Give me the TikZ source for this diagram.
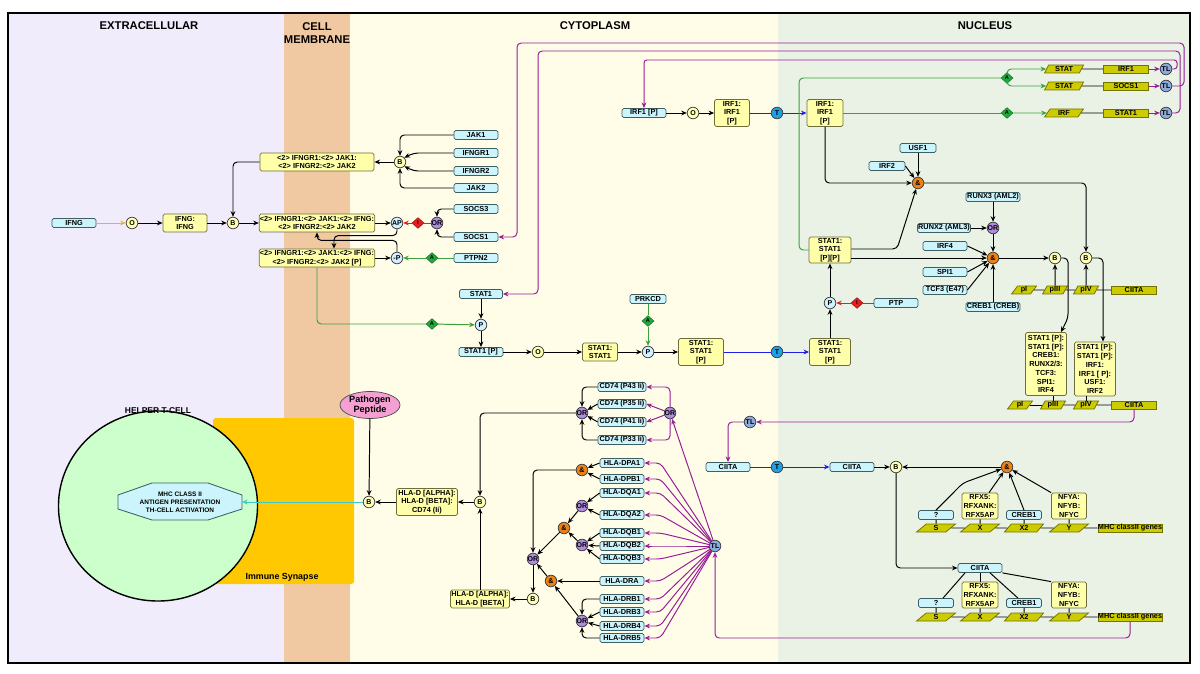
\documentclass[tikz,border=0pt]{standalone}
\usepackage{fontspec}
\setmainfont{Liberation Sans}
\usepackage{tikz}
\usetikzlibrary{shapes,arrows.meta,positioning,calc}

% colours
\definecolor{extrabg}{RGB}{240,236,252}
\definecolor{membg}{RGB}{240,200,162}
\definecolor{cytobg}{RGB}{255,253,232}
\definecolor{nucbg}{RGB}{234,242,230}
\definecolor{protfill}{RGB}{204,244,252}
\definecolor{protline}{RGB}{60,95,100}
\definecolor{cplxfill}{RGB}{255,255,170}
\definecolor{cplxline}{RGB}{110,110,60}
\definecolor{genefill}{RGB}{204,204,0}
\definecolor{geneline}{RGB}{115,115,0}
\definecolor{bfill}{RGB}{255,255,180}
\definecolor{andfill}{RGB}{235,130,20}
\definecolor{orfill}{RGB}{176,140,224}
\definecolor{pfill}{RGB}{210,240,255}
\definecolor{tfill}{RGB}{30,160,230}
\definecolor{tlfill}{RGB}{140,170,220}
\definecolor{actgreen}{RGB}{30,170,60}
\definecolor{inhred}{RGB}{230,30,30}
\definecolor{linepurple}{RGB}{150,30,150}
\definecolor{linegreen}{RGB}{60,160,60}
\definecolor{lineblue}{RGB}{30,30,230}
\definecolor{lineorange}{RGB}{245,170,60}
\definecolor{linecyan}{RGB}{60,200,200}
\definecolor{synapse}{RGB}{255,200,0}
\definecolor{tcell}{RGB}{204,255,204}
\definecolor{peptide}{RGB}{245,160,210}

\newcommand\boxfont{\fontsize{5.2}{6.2}\selectfont\bfseries}
\newcommand\gatefont{\fontsize{5}{5}\selectfont\bfseries}
\newcommand\headfont{\fontsize{8}{9.6}\selectfont\bfseries}

\tikzset{
  ln/.style={line width=0.7pt},
  arr/.style={ln, -{Stealth[length=4pt,width=3.4pt]}},
  parr/.style={arr, draw=linepurple},
  garr/.style={arr, draw=linegreen},
  barr/.style={arr, draw=lineblue},
  rarr/.style={arr, draw=inhred},
  rc/.style={rounded corners=3pt},
  prot/.style={draw=protline, fill=protfill, rounded corners=1.2pt, line width=0.55pt, minimum width=1.1cm, minimum height=0.225cm, inner sep=0.5pt, font=\boxfont},
  cplx/.style={draw=cplxline, fill=cplxfill, rounded corners=1.2pt, line width=0.55pt, align=center, inner sep=0.5pt, font=\boxfont},
  gene/.style={draw=geneline, fill=genefill, line width=0.55pt, minimum width=1.125cm, minimum height=0.2cm, inner sep=0pt, font=\boxfont},
  prom/.style={trapezium, trapezium left angle=65, trapezium right angle=115, trapezium stretches=true, draw=geneline, fill=genefill, line width=0.55pt, minimum width=0.975cm, minimum height=0.2cm, inner sep=0pt, font=\boxfont},
  gate/.style={circle, draw=black!75, line width=0.55pt, minimum size=0.29cm, inner sep=0pt, font=\gatefont},
  bind/.style={gate, fill=bfill},
  andg/.style={gate, fill=andfill},
  org/.style={gate, fill=orfill},
  phos/.style={gate, fill=pfill},
  trans/.style={gate, fill=tfill},
  transl/.style={gate, fill=tlfill},
  actd/.style={diamond, fill=actgreen, draw=actgreen!70!black, minimum width=0.3cm, minimum height=0.27cm, inner sep=0pt, font=\fontsize{4}{4}\selectfont\bfseries},
  inhd/.style={actd, fill=inhred, draw=inhred!70!black},
  head/.style={font=\headfont, align=center},
}

\begin{document}
\begin{tikzpicture}[x=0.025cm, y=-0.025cm]
  \useasboundingbox (0,0) rectangle (1200,674);
  \fill[white] (0,0) rectangle (1200,674);

  % compartments
  \fill[extrabg] (8,13) rectangle (284,663);
  \fill[membg] (284,13) rectangle (350,663);
  \fill[cytobg] (350,13) rectangle (778,663);
  \fill[nucbg] (778,13) rectangle (1190,663);
  \draw[line width=1.4pt] (8,13) rectangle (1190,663);
  \node[head] (hextra) at (149,26) {EXTRACELLULAR};
  \node[head] (hmem) at (317,33) {CELL\\MEMBRANE};
  \node[head] (hcyto) at (595,26) {CYTOPLASM};
  \node[head] (hnuc) at (985,26) {NUCLEUS};

  % helper T-cell
  \fill[synapse, rounded corners=2pt] (213,418) rectangle (354,584);
  \node[font=\fontsize{6.3}{7}\selectfont\bfseries] (syn) at (282,577) {Immune Synapse};
  \node[ellipse, draw, line width=1pt, fill=tcell, minimum width=4.975cm, minimum height=4.75cm] (tcell) at (158,506) {};
  \node[font=\fontsize{6}{7}\selectfont\bfseries] (tlbl) at (158,411) {HELPER T-CELL};
  \draw[draw=protline, fill=protfill, line width=0.6pt] (152,483) -- (208,483) -- (242,495) -- (242,509) -- (208,520) -- (152,520) -- (118,509) -- (118,495) -- cycle;
  \node[font=\fontsize{4.6}{5.7}\selectfont\bfseries, align=center] (act) at (180,502) {MHC CLASS II\\ANTIGEN PRESENTATION\\TH-CELL ACTIVATION};
  \coordinate (actR) at (242,502);

  % receptor
  \node[cplx, minimum width=2.85cm, minimum height=0.45cm] (c1) at (317,162) {<2> IFNGR1:<2> JAK1:\\<2> IFNGR2:<2> JAK2};
  \node[bind] (b1) at (400,162) {B};
  \node[prot] (jak1) at (476,135) {JAK1};
  \node[prot] (ifngr1) at (476,153) {IFNGR1};
  \node[prot] (ifngr2) at (476,171) {IFNGR2};
  \node[prot] (jak2) at (476,188) {JAK2};
  \node[prot] (ifng) at (74,223) {IFNG};
  \node[bind] (o1) at (132,223) {O};
  \node[cplx, minimum width=1.1cm, minimum height=0.45cm] (dimer) at (185,223) {IFNG:\\IFNG};
  \node[bind] (b2) at (233,223) {B};
  \node[cplx, minimum width=2.85cm, minimum height=0.45cm] (c2) at (317,223) {<2> IFNGR1:<2> JAK1:<2> IFNG:\\<2> IFNGR2:<2> JAK2};
  \node[phos] (ap) at (397,223) {AP};
  \node[inhd] (inh1) at (418,223) {I};
  \node[org] (orS) at (437,223) {OR};
  \node[prot] (socs3) at (476,209) {SOCS3};
  \node[prot] (socs1) at (476,237) {SOCS1};
  \node[cplx, minimum width=2.85cm, minimum height=0.45cm] (c3) at (317,258) {<2> IFNGR1:<2> JAK1:<2> IFNG:\\<2> IFNGR2:<2> JAK2 [P]};
  \node[phos] (dp) at (397,258) {-P};
  \node[actd] (act1) at (432,258) {A};
  \node[prot] (ptpn2) at (476,258) {PTPN2};
  \node[actd] (act2) at (432,324) {A};

  % STAT1 dimer
  \node[prot, minimum width=1.075cm] (stat1) at (481,294) {STAT1};
  \node[phos] (p1) at (481,325) {P};
  \node[prot] (stat1p) at (481,352) {STAT1 [P]};
  \node[bind] (o2) at (538,352) {O};
  \node[cplx, minimum width=0.875cm, minimum height=0.45cm] (s11) at (600,352) {STAT1:\\STAT1};
  \node[phos] (p2) at (648,352) {P};
  \node[prot, minimum width=0.9cm] (prkcd) at (648,299) {PRKCD};
  \node[actd] (act3) at (648,321) {A};
  \node[cplx, minimum width=1.125cm, minimum height=0.675cm] (s11p) at (701,352) {STAT1:\\STAT1\\{[P]}};
  \node[trans] (t1) at (777,352) {T};
  \node[cplx, minimum width=1.025cm, minimum height=0.675cm] (s11pn) at (830,352) {STAT1:\\STAT1\\{[P]}};
  \node[phos] (p3) at (830,303) {P};
  \node[inhd] (inh2) at (857,303) {I};
  \node[prot] (ptp) at (896,303) {PTP};
  \node[cplx, minimum width=1.05cm, minimum height=0.65cm] (s11pp) at (830,250) {STAT1:\\STAT1\\{[P][P]}};

  % IRF1
  \node[prot] (irf1p) at (644,113) {IRF1 [P]};
  \node[bind] (o3) at (693,113) {O};
  \node[cplx, minimum width=0.875cm, minimum height=0.675cm] (irf1d) at (732,113) {IRF1:\\IRF1\\{[P]}};
  \node[trans] (t2) at (777,113) {T};
  \node[cplx, minimum width=0.9cm, minimum height=0.675cm] (irf1n) at (825,113) {IRF1:\\IRF1\\{[P]}};

  % target genes
  \node[actd] (act4) at (1007,78) {A};
  \node[actd] (act5) at (1007,113) {A};
  \node[prom] (statp1) at (1064,69) {STAT};
  \node[prom] (statp2) at (1064,86) {STAT};
  \node[prom] (irfp) at (1064,113) {IRF};
  \node[gene] (irf1g) at (1126,69) {IRF1};
  \node[gene] (socs1g) at (1126,86) {SOCS1};
  \node[gene] (stat1g) at (1126,113) {STAT1};
  \node[transl] (tl1) at (1166,69) {TL};
  \node[transl] (tl2) at (1166,86) {TL};
  \node[transl] (tl3) at (1166,113) {TL};

  % CIITA promoters
  \node[prot, minimum width=0.9cm] (usf1) at (918,148) {USF1};
  \node[prot, minimum width=0.9cm] (irf2) at (887,166) {IRF2};
  \node[andg] (and1) at (918,183) {\&};
  \node[prot, minimum width=1.35cm] (runx3) at (993,197) {RUNX3 (AML2)};
  \node[org] (orR) at (993,228) {OR};
  \node[prot, minimum width=1.325cm] (runx2) at (944,228) {RUNX2 (AML3)};
  \node[prot] (irf4) at (945,246) {IRF4};
  \node[andg] (and2) at (993,258) {\&};
  \node[prot] (spi1) at (945,272) {SPI1};
  \node[prot] (tcf3) at (945,290) {TCF3 (E47)};
  \node[prot, minimum width=1.3cm] (creb1) at (993,307) {CREB1 (CREB)};
  \node[bind] (b3) at (1055,258) {B};
  \node[bind] (b4) at (1086,258) {B};
  \node[prom, minimum width=0.625cm] (pI1) at (1024,290) {pI};
  \node[prom, minimum width=0.625cm] (pIII1) at (1055,290) {pIII};
  \node[prom, minimum width=0.625cm] (pIV1) at (1086,290) {pIV};
  \node[gene] (ciitag1) at (1134,290) {CIITA};
  \node[cplx, minimum width=1.025cm, minimum height=1.575cm] (cxA) at (1046,364) {STAT1 [P]:\\STAT1 [P]:\\CREB1:\\RUNX2/3:\\TCF3:\\SPI1:\\IRF4};
  \node[cplx, minimum width=1.025cm, minimum height=1.35cm] (cxB) at (1095,369) {STAT1 [P]:\\STAT1 [P]:\\IRF1:\\IRF1 [ P]:\\USF1:\\IRF2};
  \node[prom, minimum width=0.625cm] (pI2) at (1020,405) {pI};
  \node[prom, minimum width=0.625cm] (pIII2) at (1053,405) {pIII};
  \node[prom, minimum width=0.625cm] (pIV2) at (1086,405) {pIV};
  \node[gene] (ciitag2) at (1134,405) {CIITA};

  % CIITA and MHC class II genes
  \node[transl] (tl4) at (750,422) {TL};
  \node[prot] (ciita1) at (728,467) {CIITA};
  \node[trans] (t3) at (777,467) {T};
  \node[prot] (ciita2) at (852,467) {CIITA};
  \node[bind] (b5) at (896,467) {B};
  \node[andg] (and3) at (1007,467) {\&};
  \node[prot, minimum width=0.875cm] (q1) at (936,515) {?};
  \node[cplx, minimum width=0.9cm, minimum height=0.65cm] (rfx1) at (980,506) {RFX5:\\RFXANK:\\RFX5AP};
  \node[prot, minimum width=0.875cm] (crebA) at (1024,515) {CREB1};
  \node[cplx, minimum width=0.875cm, minimum height=0.65cm] (nfy1) at (1069,506) {NFYA:\\NFYB:\\NFYC};
  \node[prom] (s1) at (936,528) {S};
  \node[prom] (x1) at (980,528) {X};
  \node[prom] (x21) at (1024,528) {X2};
  \node[prom] (y1) at (1069,528) {Y};
  \node[gene, minimum width=1.575cm] (mhc1) at (1130,528) {MHC classII genes};
  \node[prot] (ciita3) at (980,568) {CIITA};
  \node[prot, minimum width=0.875cm] (q2) at (936,603) {?};
  \node[cplx, minimum width=0.9cm, minimum height=0.65cm] (rfx2) at (980,595) {RFX5:\\RFXANK:\\RFX5AP};
  \node[prot, minimum width=0.875cm] (crebB) at (1024,603) {CREB1};
  \node[cplx, minimum width=0.875cm, minimum height=0.65cm] (nfy2) at (1069,595) {NFYA:\\NFYB:\\NFYC};
  \node[prom] (s2) at (936,617) {S};
  \node[prom] (x2) at (980,617) {X};
  \node[prom] (x22) at (1024,617) {X2};
  \node[prom] (y2) at (1069,617) {Y};
  \node[gene, minimum width=1.575cm] (mhc2) at (1130,617) {MHC classII genes};
  \node[transl] (tl5) at (715,546) {TL};

  % HLA and CD74
  \foreach \n/\t/\y in {cd43/CD74 (P43 Ii)/387, cd35/CD74 (P35 Ii)/404, cd41/CD74 (P41 Ii)/422, cd33/CD74 (P33 Ii)/440}
    \node[prot, minimum width=1.2cm] (\n) at (622,\y) {\t};
  \foreach \n/\t/\y in {dpa1/HLA-DPA1/463, dpb1/HLA-DPB1/479, dqa1/HLA-DQA1/493, dqa2/HLA-DQA2/515, dqb1/HLA-DQB1/533, dqb2/HLA-DQB2/546, dqb3/HLA-DQB3/559, dra/HLA-DRA/581, drb1/HLA-DRB1/599, drb3/HLA-DRB3/612, drb4/HLA-DRB4/626, drb5/HLA-DRB5/638}
    \node[prot] (\n) at (622,\y) {\t};
  \node[org] (or1) at (582,413) {OR};
  \node[org] (or2) at (670,413) {OR};
  \node[andg] (andDP) at (582,470) {\&};
  \node[org] (orDQA) at (582,506) {OR};
  \node[andg] (andDQ) at (564,528) {\&};
  \node[org] (orDQB) at (582,545) {OR};
  \node[org] (orMain) at (533,559) {OR};
  \node[andg] (andDR) at (551,581) {\&};
  \node[org] (orDRB) at (582,621) {OR};
  \node[bind] (b7) at (533,599) {B};
  \node[cplx, minimum width=1.475cm, minimum height=0.45cm] (hlab2) at (480,599) {HLA-D [ALPHA]:\\HLA-D [BETA]};
  \node[bind] (b6) at (480,502) {B};
  \node[cplx, minimum width=1.525cm, minimum height=0.675cm] (hla3) at (427,502) {HLA-D [ALPHA]:\\HLA-D [BETA]:\\CD74 (Ii)};
  \node[bind] (b8) at (369,502) {B};
  \node[ellipse, draw=black!70, fill=peptide, line width=0.5pt, inner sep=0pt, minimum width=1.5cm, minimum height=0.625cm, align=center, font=\fontsize{6.5}{7.5}\selectfont\bfseries] (pep) at (370,405) {Pathogen\\Peptide};

  % receptor connectors
  \draw[arr, rc] (jak1.west) -| (b1.north);
  \draw[arr, rc] (ifngr1.west) -- (414,153) -- (b1.north east);
  \draw[arr, rc] (ifngr2.west) -- (414,171) -- (b1.south east);
  \draw[arr, rc] (jak2.west) -| (b1.south);
  \draw[arr] (b1) -- (c1);
  \draw[arr, rc] (c1.west) -| (b2.north);
  \draw[arr, draw=lineorange] (ifng) -- (o1);
  \draw[arr] (o1) -- (dimer);
  \draw[arr] (dimer) -- (b2);
  \draw[arr] (b2) -- (c2);
  \draw[arr] (c2) -- (ap);
  \draw[ln, draw=inhred] (orS) -- (inh1);
  \draw[rarr] (inh1) -- (ap);
  \draw[arr, rc] (socs3.west) -| (orS.north);
  \draw[arr, rc] (socs1.west) -| (orS.south);
  \draw[arr, rc] (ap.south) |- ($(c3.north)+(17,-13)$) -- ($(c3.north)+(17,0)$);
  \draw[arr] (c3) -- (dp);
  \draw[arr, rc] (dp.north) |- ($(c2.south)+(0,8)$) -- (c2.south);
  \draw[ln, draw=linegreen] (ptpn2) -- (act1);
  \draw[garr] (act1) -- (dp);
  \draw[ln, draw=linegreen, rc] (c3.south) |- (act2);
  \draw[garr] (act2) -- (p1);

  % STAT1 connectors
  \draw[arr] (stat1) -- (p1);
  \draw[arr] (p1) -- (stat1p);
  \draw[arr] (stat1p) -- (o2);
  \draw[arr] (o2) -- (s11);
  \draw[arr] (s11) -- (p2);
  \draw[ln, draw=linegreen] (prkcd) -- (act3);
  \draw[garr] (act3) -- (p2);
  \draw[arr] (p2) -- (s11p);
  \draw[ln, draw=lineblue] (s11p) -- (t1);
  \draw[barr] (t1) -- (s11pn);
  \draw[arr] (s11pn) -- (p3);
  \draw[arr] (p3) -- (s11pp);
  \draw[ln, draw=inhred] (ptp) -- (inh2);
  \draw[rarr] (inh2) -- (p3);

  % IRF1 connectors
  \draw[arr] (irf1p) -- (o3);
  \draw[arr] (o3) -- (irf1d);
  \draw[ln, draw=lineblue] (irf1d) -- (t2);
  \draw[barr] (t2) -- (irf1n);
  \draw[ln, draw=linegreen] (irf1n) -- (act5);
  \draw[garr] (act5) -- (irfp);
  \draw[ln, draw=linegreen, rc] (s11pp.west) -- (799,250) |- (act4);
  \draw[garr, rc] (act4.north) |- (statp1.west);
  \draw[garr, rc] (act4.south) |- (statp2.west);
  \foreach \a/\b in {statp1/irf1g, statp2/socs1g, irfp/stat1g}
    \draw[ln] (\a) -- (\b);
  \draw[parr] (irf1g) -- (tl1);
  \draw[parr] (socs1g) -- (tl2);
  \draw[parr] (stat1g) -- (tl3);
  \draw[parr, rounded corners=2pt] (tl1.east) -- (1177,69) |- (644,60) -- (irf1p.north);
  \draw[parr, rc] (tl2.east) -- (1184,86) |- (517,43) |- (socs1.east);
  \draw[parr, rc] (tl3.east) -- (1180,113) |- (538,51) |- (stat1.east);

  % CIITA promoter connectors
  \draw[arr, rc] (irf1n.south) |- (and1.west);
  \draw[arr] (usf1) -- (and1);
  \draw[arr] (irf2.east) -- (and1);
  \draw[arr, rc] ($(s11pp.east)+(0,-1)$) -- (897,249) -- (and1);
  \draw[arr] ($(s11pp.east)+(0,8)$) -- (and2);
  \draw[arr, rc] (and1.east) -| (b4.north);
  \draw[arr] (runx3) -- (orR);
  \draw[arr] (runx2) -- (orR);
  \draw[arr] (orR) -- (and2);
  \draw[arr] (irf4.east) -- (and2);
  \draw[arr] (spi1.east) -- (and2);
  \draw[arr] (tcf3.east) -- (and2);
  \draw[arr] (creb1) -- (and2);
  \draw[arr] (and2) -- (b3);
  \draw[arr] (pIII1) -- (b3);
  \draw[arr] (pIV1) -- (b4);
  \foreach \a/\b in {pI1/pIII1, pIII1/pIV1, pIV1/ciitag1, pI2/pIII2, pIII2/pIV2, pIV2/ciitag2}
    \draw[ln] (\a) -- (\b);
  \draw[arr, rc] (b3.east) -| (1068,318) -- ($(cxA.north)+(15,0)$);
  \draw[arr, rc] (b4.east) -| ($(cxB.north)+(8,0)$);
  \draw[ln] (pIII2.north) -- (pIII2.north |- cxA.south);
  \draw[ln] (pIV2.north) -- (pIV2.north |- cxB.south);

  % CIITA and MHC connectors
  \draw[parr, rc] (ciitag2.south) |- (tl4.east);
  \draw[parr, rc] (tl4.west) -| (ciita1.north);
  \draw[ln, draw=lineblue] (ciita1) -- (t3);
  \draw[barr] (t3) -- (ciita2);
  \draw[arr] (ciita2) -- (b5);
  \draw[arr] (and3) -- (b5);
  \draw[arr, rc] (b5.south) |- (ciita3.west);
  \draw[arr, rc] (q1.north) -- (963,483) -- (and3);
  \draw[arr] ($(rfx1.north)+(9,0)$) -- (and3);
  \draw[arr] (crebA.north) -- (and3);
  \draw[arr] (nfy1.north west) -- (and3);
  \foreach \f/\e in {q1/s1, rfx1/x1, crebA/x21, nfy1/y1, q2/s2, rfx2/x2, crebB/x22, nfy2/y2}
    \draw[ln] (\f) -- (\e);
  \foreach \a/\b in {s1/x1, x1/x21, x21/y1, y1/mhc1, s2/x2, x2/x22, x22/y2, y2/mhc2}
    \draw[ln] (\a) -- (\b);
  \draw[ln] ($(ciita3.south)+(-15,0)$) -- ($(q2.north)+(7,0)$);
  \draw[ln] (ciita3) -- (rfx2);
  \draw[ln] ($(ciita3.south)+(10,0)$) -- ($(crebB.north)+(-6,0)$);
  \draw[ln] (ciita3.south east) -- (nfy2.north west);
  \draw[parr, rc] (mhc2.south) |- (715,638) -- (tl5.south);

  % HLA connectors
  \draw[parr] (tl5) -- (or2);
  \foreach \g in {dpa1,dpb1,dqa1,dqa2,dqb1,dqb2,dqb3,dra,drb1,drb3,drb4,drb5}
    \draw[parr, rc] (tl5) -- ($(\g.east)+(16,0)$) -- (\g.east);
  \draw[parr, rc] (or2.north) |- (cd43.east);
  \draw[parr] (or2) -- (cd35.east);
  \draw[parr] (or2) -- (cd41.east);
  \draw[parr, rc] (or2.south) |- (cd33.east);
  \draw[arr, rc] (cd43.west) -| (or1.north);
  \draw[arr] (cd35.west) -- (or1);
  \draw[arr] (cd41.west) -- (or1);
  \draw[arr, rc] (cd33.west) -| (or1.south);
  \draw[arr, rc] (or1.west) -| (b6.north);
  \draw[arr] (b6) -- (hla3);
  \draw[arr] (hlab2) -- (b6);
  \draw[arr] (b7) -- (hlab2);
  \draw[arr] (orMain) -- (b7);
  \draw[arr] (hla3) -- (b8);
  \draw[arr] (pep) -- (b8);
  \draw[arr, draw=linecyan] (b8) -- (actR);
  \draw[arr, rc] (andDP.west) -| (orMain.north);
  \draw[arr] (dpa1.west) -- (andDP);
  \draw[arr] (dpb1.west) -- (andDP);
  \draw[arr] (dqa1.west) -- (orDQA);
  \draw[arr] (dqa2.west) -- (orDQA);
  \draw[arr] (orDQA) -- (andDQ);
  \draw[arr] (dqb1.west) -- (orDQB);
  \draw[arr] (dqb2.west) -- (orDQB);
  \draw[arr] (dqb3.west) -- (orDQB);
  \draw[arr] (orDQB) -- (andDQ);
  \draw[arr] (andDQ) -- (orMain);
  \draw[arr] (dra.west) -- (andDR);
  \draw[arr] (orDRB) -- (andDR);
  \draw[arr] (andDR) -- (orMain);
  \draw[arr, rc] (drb1.west) -| (orDRB.north);
  \draw[arr] (drb3.west) -- (orDRB);
  \draw[arr] (drb4.west) -- (orDRB);
  \draw[arr, rc] (drb5.west) -| (orDRB.south);
\end{tikzpicture}
\end{document}
